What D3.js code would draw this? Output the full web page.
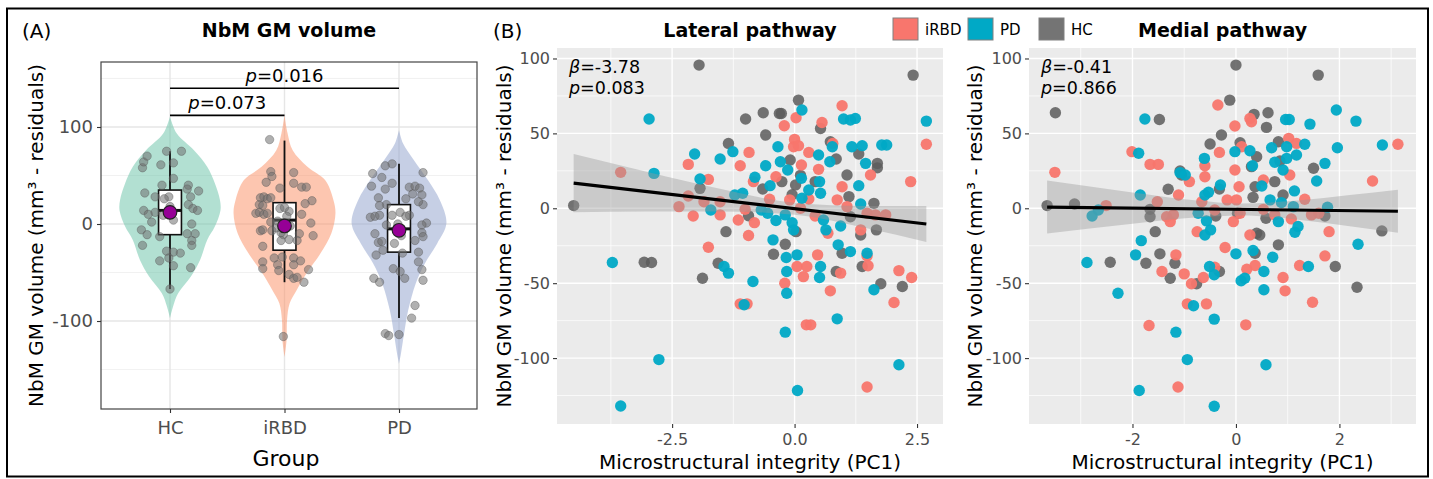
<!DOCTYPE html>
<html>
<head>
<meta charset="utf-8">
<script src="https://cdn.jsdelivr.net/npm/d3@7"></script>
<style>
  body { margin: 0; background: #fff; }
  svg { display: block; }
  text { font-family: "DejaVu Sans", sans-serif; }
</style>
</head>
<body>
<svg id="fig" width="1433" height="479"></svg>
<script>
// ---------------- data ----------------
const groups = ["HC", "iRBD", "PD"];

// Panel A: residual NbM GM volume per subject, [horizontal jitter (category units), value]
const hcPoints = [[-0.24,58],[-0.23,64],[-0.20,70],[-0.03,75],[0.10,75],[-0.08,61],[0.03,63],[0.03,47],[-0.07,40],[-0.22,32],[-0.13,28],[-0.01,28],[0.16,40],[0.15,36],[0.25,34],[0.18,28],[0.16,20],[0.20,16],[0.24,14],[-0.23,14],[-0.19,10],[-0.13,12],[-0.16,2],[-0.25,-6],[-0.20,-11],[-0.24,-22],[-0.09,-13],[0.19,0],[0.15,-10],[0.22,-10],[0.19,-17],[0.19,-22],[-0.03,-28],[0.03,-29],[0.09,-30],[-0.09,-38],[-0.01,-35],[0.03,-43],[0.18,-45],[0.00,-67],[0.00,18],[-0.06,9],[0.03,4],[-0.05,26]];
const irbdPoints = [[-0.13,87],[-0.12,54],[-0.11,49],[0.08,53],[-0.16,43],[-0.04,37],[0.08,42],[0.15,38],[0.19,38],[-0.21,27],[-0.18,28],[-0.15,26],[-0.12,27],[-0.22,20],[-0.19,19],[-0.25,11],[-0.22,12],[-0.18,10],[-0.15,11],[0.24,24],[0.18,21],[0.15,10],[0.04,13],[-0.06,3],[-0.12,2],[0.23,1],[-0.21,-7],[-0.19,-6],[-0.11,-7],[0.13,-10],[0.25,-12],[-0.01,-11],[-0.03,-17],[0.04,-16],[0.11,-17],[-0.19,-23],[-0.09,-35],[-0.02,-34],[0.08,-35],[0.14,-38],[-0.19,-39],[-0.19,-46],[-0.06,-42],[-0.05,-48],[0.08,-42],[0.21,-47],[0.04,-52],[0.08,-56],[0.11,-55],[0.17,-60],[-0.01,-116],[-0.04,16],[0.02,8],[0.05,-2],[-0.03,-9],[-0.07,-4],[0.00,17]];
const pdPoints = [[-0.23,52],[-0.12,60],[-0.06,62],[0.21,53],[-0.15,48],[-0.24,39],[-0.12,36],[-0.06,42],[0.09,38],[0.14,39],[0.18,37],[0.20,30],[0.12,31],[0.06,26],[-0.18,27],[-0.11,20],[-0.17,19],[0.21,20],[0.17,23],[-0.25,7],[-0.21,8],[-0.17,9],[-0.06,9],[0.09,9],[0.24,1],[0.20,-1],[-0.11,-1],[-0.21,-10],[-0.18,-19],[-0.15,-18],[-0.20,-32],[0.20,-9],[0.14,-17],[0.21,-13],[0.17,-29],[-0.05,-46],[0.01,-49],[0.05,-56],[0.17,-39],[0.20,-47],[0.21,-58],[-0.22,-56],[-0.17,-60],[0.14,-84],[0.11,-97],[-0.12,-113],[-0.09,-115],[0.00,-114],[0.01,12],[-0.01,0],[0.02,-12],[0.06,8],[-0.04,-20],[0.03,-30],[-0.14,-27]];

// Violin outlines: [value, relative density]
const hcViolin = [[110.6,0],[93.5,0.13],[76,0.47],[59,0.73],[42,0.88],[24.7,0.98],[14,0.99],[-2.7,0.88],[-16.5,0.73],[-37,0.59],[-54,0.41],[-71.5,0.16],[-85,0.06],[-97,0]];
const irbdViolin = [[112,0],[93.5,0.06],[76,0.16],[59,0.45],[45,0.80],[24.7,0.96],[11,1.0],[-9.6,0.92],[-30,0.71],[-51,0.43],[-68,0.24],[-82,0.10],[-99,0.05],[-120,0.04],[-137,0]];
const pdViolin = [[97,0],[83,0.08],[66,0.29],[45,0.57],[24.7,0.80],[0.7,0.93],[-20,0.75],[-40.5,0.51],[-61,0.33],[-89,0.18],[-113,0.10],[-133,0.04],[-144,0]];

// Box statistics per group (HC, iRBD, PD)
const whiskerLow = [-67, -60, -97];
const boxQ1 = [-11, -27, -29];
const boxMedian = [14, 4, -5];
const boxQ3 = [35, 22, 20];
const whiskerHigh = [75, 86, 62];
const groupMeans = [12, -2, -6.5];

// Pairwise comparisons: [from, to, bracket height, p]
const comparisons = [["HC", "iRBD", 112, "0.073"], ["HC", "PD", 140, "0.016"]];

// Panel B: [PC1, NbM GM volume residual]
const lateralHC = [[-4.51,1.8],[-1.95,95.6],[2.42,88.9],[-3.07,-36],[-2.92,-36.2],[-1.88,-46.7],[-1.93,13.3],[-1.56,-36.7],[-1.40,-15.6],[-1.35,43.3],[-1.0,59.6],[-0.94,-5],[-0.64,63.8],[-0.59,48.9],[-0.65,12.9],[-0.43,-30.7],[-0.31,63.3],[-0.27,63.3],[-0.26,17.8],[-0.19,-24],[-0.09,32.2],[0.08,72.2],[0.03,-15.6],[0.12,22],[0.53,53.3],[0.42,17.8],[0.73,44.4],[0.85,32.9],[0.97,-30],[0.85,-42.2],[1.07,22.2],[1.14,-5.6],[1.11,7.8],[1.35,-17.8],[1.38,-38.9],[1.62,3.3],[1.69,30],[1.69,27],[1.67,-14.4],[1.76,-50.4],[2.2,-52.2],[1.31,36.2],[0.02,15.6],[-0.05,9]];
const lateralIRBD = [[-3.55,24],[-2.36,1.1],[-2.17,29.3],[-2.17,8.2],[-2.07,-5.1],[-1.85,4.4],[-1.76,19.3],[-1.76,-26],[-1.52,4.4],[-1.52,-4.4],[-1.15,-7.8],[-1.11,28.4],[-1.01,-0.7],[-0.93,37.3],[-0.94,-18.2],[-0.84,17.8],[-0.82,-9.6],[-1.11,-63.8],[-0.97,-63.8],[-0.51,6],[-0.38,21.1],[-0.21,55.1],[-0.2,-50],[-0.1,5.6],[-0.02,41.1],[0.03,60.4],[0.0,46],[0.08,41.8],[0.05,-38.9],[0.14,28.9],[0.12,0],[0.18,-45.6],[0.29,37.3],[0.29,6.2],[0.25,-38.9],[0.24,-77.8],[0.33,-77.8],[0.42,-5.1],[0.47,-31.1],[0.49,26],[0.56,57.3],[0.68,-16.7],[0.73,-55.1],[0.78,43.3],[0.87,5.6],[0.94,-43.3],[0.97,68.4],[0.97,14.4],[1.07,1.1],[1.35,-14.4],[1.48,-3.3],[1.48,-31.8],[1.5,-38.4],[1.55,22.2],[1.65,-4.4],[1.86,-4.4],[1.48,-119.3],[2.03,-62.9],[2.13,-41.6],[2.37,17.8],[2.39,-46.2],[2.69,42.7]];
const lateralPD = [[-3.72,-36.2],[-2.97,59.6],[-2.87,23.3],[-2.77,-101],[-3.55,-132],[-2.04,36.2],[-1.93,19.6],[-1.71,-1.1],[-1.52,32.9],[-1.26,37.8],[-1.22,8.9],[-1.06,10],[-1.44,-38.9],[-1.35,-43.3],[-0.85,-48.9],[-1.03,-64.4],[-0.81,20.7],[-0.59,28.4],[-0.68,-1.1],[-0.55,-3.3],[-0.50,15.1],[-0.44,-21.1],[-0.38,-8.2],[-0.34,41.1],[-0.29,31.1],[-0.19,-4.4],[-0.17,-32.9],[-0.16,-42.2],[-0.16,-56.7],[-0.19,-82.7],[-0.14,25.6],[-0.05,-9.6],[-0.02,-14.4],[0.05,-31.1],[0.06,-121.6],[0.15,65.6],[0.14,20],[0.15,6.7],[0.29,12.2],[0.49,35.6],[0.51,17.8],[0.53,10],[0.59,-7.8],[0.64,-14.4],[0.53,-38.9],[0.51,-46.2],[0.72,31.1],[0.77,41.1],[0.94,-11.8],[0.89,-24.4],[0.87,-73.8],[1.0,59.6],[1.14,58.9],[1.24,60],[1.17,41.1],[1.38,41.8],[1.31,15.1],[1.14,-28.9],[1.35,2.9],[1.45,30],[1.48,-30],[1.62,-54.4],[1.78,42.2],[1.88,42.2],[2.13,-104.4],[2.69,58.2]];

const medialHC = [[-3.65,1.8],[-3.49,63.8],[-3.12,2.9],[-2.43,-36],[-1.74,-36.7],[-1.66,-0.7],[-1.66,-5.6],[-1.56,-15.6],[-1.48,59.3],[-1.47,-30.4],[-1.31,12.7],[-1.27,-46.7],[-1.18,-36.7],[-1.08,24.9],[-1.05,22.2],[-0.76,-50.4],[-0.5,42.9],[-0.39,-5.1],[-0.32,-42.2],[-0.28,48.9],[-0.32,12.9],[-0.12,72.2],[0,95.6],[0.08,43.8],[0.03,-3.3],[0.35,62.7],[0.3,27.8],[0.33,7.3],[0.37,14.4],[0.4,-16.7],[0.46,-17.8],[0.37,-30],[0.59,54],[0.62,63.8],[0.58,-6.7],[0.82,44.4],[0.82,-24.4],[0.75,17.8],[0.85,31.6],[0.91,8.9],[1.5,26.7],[1.59,88.9],[1.72,-5.1],[1.92,-38.9],[2.34,-52.7],[2.82,-15.1],[0.4,34.4]];
const medialIRBD = [[-3.5,24],[-2.51,1.8],[-2.01,37.8],[-1.68,-78.2],[-1.66,29.3],[-1.5,29.3],[-1.52,4.4],[-1.43,-42.2],[-1.34,-5.6],[-1.21,-4.4],[-1.27,-8.9],[-1.16,-31.1],[-1.11,8.9],[-1.12,-119.3],[-1.0,-43.8],[-0.94,-63.8],[-0.9,17.8],[-0.86,-50.4],[-0.75,-15.6],[-0.66,4.4],[-0.63,-46.2],[-0.6,28.4],[-0.6,21.1],[-0.57,-63.8],[-0.41,-1.1],[-0.41,-39.3],[-0.35,68.9],[-0.32,37.3],[-0.21,-26.2],[-0.17,5.6],[-0.05,-8.9],[-0.02,54.9],[-0.02,25.6],[0.01,5.6],[0.06,14.4],[0.11,41.1],[0.08,-3.3],[0.19,-77.8],[0.21,-40.7],[0.27,60],[0.3,57.8],[0.27,-17.8],[0.37,-38.2],[0.53,18.9],[0.53,-0.7],[0.75,-4.4],[0.91,-46.2],[0.95,-55.1],[1.02,46.7],[1.04,22.2],[1.07,-7.1],[1.17,43.3],[1.23,-38.2],[1.33,6],[1.46,-4.4],[1.48,-62.7],[1.6,-3.3],[1.72,-31.8],[1.8,-15.6],[2.64,18.2],[3.13,42.7]];
const medialPD = [[-2.88,-36.2],[-2.78,-5.1],[-2.66,-1.1],[-2.28,-56.7],[-1.94,-31.1],[-1.88,36.7],[-1.85,8.9],[-1.83,-21.6],[-1.87,-121.6],[-1.76,59.6],[-1.16,-82.7],[-1.08,23.8],[-0.98,22.2],[-0.94,-101],[-0.82,-65.1],[-0.73,-3.3],[-0.61,33.3],[-0.6,8.9],[-0.57,-8.4],[-0.53,10.7],[-0.6,-17.8],[-0.49,-14.4],[-0.51,-38.9],[-0.42,-44.4],[-0.42,-74],[-0.42,-132.2],[-0.3,15.6],[-0.02,37.8],[0,-30.4],[0.1,-48.4],[0.17,-46.7],[0.27,38.4],[0.32,28.4],[0.33,-28.2],[0.54,-42.2],[0.54,-54.4],[0.58,-104.4],[0.5,14.9],[0.69,40.4],[0.71,-32.7],[0.66,5.6],[0.75,30.7],[0.82,-8.9],[0.88,3.8],[0.96,59.3],[1.03,59.3],[0.98,41.1],[0.91,25.6],[0.98,33.3],[1.11,1.1],[1.13,11.6],[1.14,-16],[1.2,-12.2],[1.17,35.6],[1.33,42.7],[1.4,-38.9],[1.43,56.2],[1.56,18.2],[1.72,30],[1.77,0.7],[1.94,65.6],[1.96,40.4],[2.32,58.2],[2.36,-24],[2.83,42.2]];

// Linear fits: slope (beta), intercept, p value; 95% confidence band [PC1, lower, upper]
const fitBeta = [-3.78, -0.41];
const fitIntercept = [-0.3, -0.7];
const fitP = ["0.083", "0.866"];
const lateralBand = [[-4.51,-2.7,36.2],[-3,-2.2,24.3],[-1.5,-2.1,12.9],[0,-4.3,3.7],[1.5,-13.5,1.5],[2.69,-22.5,1.6]];
const medialBand = [[-3.65,-16.9,18.5],[-2,-10.4,10.6],[-0.8,-6.2,5.4],[0.11,-4.75,3.25],[1.2,-7.6,5.2],[2.2,-12,8.8],[3.13,-16.4,12.4]];

const legendGroups = ["iRBD", "PD", "HC"];

// ---------------- styles ----------------
const violinFill = { HC: "#66C2A5", iRBD: "#FC8D62", PD: "#8DA0CB" };
const pointColour = { iRBD: "#F8766D", PD: "#00A9C6", HC: "#5C5C5C" };
const FONT = "DejaVu Sans";

const svg = d3.select("#fig");
svg.append("rect").attr("width", 1433).attr("height", 479).attr("fill", "#fff");
svg.append("rect").attr("x", 7).attr("y", 8.5).attr("width", 1421).attr("height", 468)
  .attr("fill", "none").attr("stroke", "#000").attr("stroke-width", 2);

function styleAxis(g, size) {
  g.attr("font-family", FONT).attr("font-size", size);
  g.select(".domain").remove();
  g.selectAll(".tick line").attr("stroke", "#333").attr("stroke-width", 1.1);
  g.selectAll(".tick text").attr("fill", "#4D4D4D");
}

// ================= Panel A =================
const A = { left: 101, right: 477, top: 62, bottom: 409 };
const yA = d3.scaleLinear().domain([-190.7, 167]).range([A.bottom, A.top]);
const xA = d3.scalePoint().domain(groups).range([170, 399]);
const stepA = xA.step();
const gA = svg.append("g");

// grid
[-150, -50, 50, 150].forEach(v => gA.append("line").attr("x1", A.left).attr("x2", A.right)
  .attr("y1", yA(v)).attr("y2", yA(v)).attr("stroke", "#EDEDED").attr("stroke-width", 0.8));
[-100, 0, 100].forEach(v => gA.append("line").attr("x1", A.left).attr("x2", A.right)
  .attr("y1", yA(v)).attr("y2", yA(v)).attr("stroke", "#E6E6E6").attr("stroke-width", 1.4));
groups.forEach(g => gA.append("line").attr("x1", xA(g)).attr("x2", xA(g))
  .attr("y1", A.top).attr("y2", A.bottom).attr("stroke", "#E6E6E6").attr("stroke-width", 1.4));

// violins
const violins = [hcViolin, irbdViolin, pdViolin];
const maxHalf = 0.445 * stepA;
groups.forEach((g, i) => {
  const cx = xA(g);
  const area = d3.area()
    .y(d => yA(d[0]))
    .x0(d => cx - d[1] * maxHalf)
    .x1(d => cx + d[1] * maxHalf)
    .curve(d3.curveCatmullRom);
  gA.append("path").attr("d", area(violins[i])).attr("fill", violinFill[g]).attr("fill-opacity", 0.5);
});

// boxes
const boxHalf = 0.1 * stepA;
groups.forEach((g, i) => {
  const cx = xA(g);
  gA.append("line").attr("x1", cx).attr("x2", cx).attr("y1", yA(whiskerHigh[i])).attr("y2", yA(boxQ3[i]))
    .attr("stroke", "#111").attr("stroke-width", 1.8);
  gA.append("line").attr("x1", cx).attr("x2", cx).attr("y1", yA(boxQ1[i])).attr("y2", yA(whiskerLow[i]))
    .attr("stroke", "#111").attr("stroke-width", 1.8);
  gA.append("rect").attr("x", cx - boxHalf).attr("width", 2 * boxHalf)
    .attr("y", yA(boxQ3[i])).attr("height", yA(boxQ1[i]) - yA(boxQ3[i]))
    .attr("fill", "#fff").attr("stroke", "#111").attr("stroke-width", 1.6);
  gA.append("line").attr("x1", cx - boxHalf).attr("x2", cx + boxHalf)
    .attr("y1", yA(boxMedian[i])).attr("y2", yA(boxMedian[i])).attr("stroke", "#111").attr("stroke-width", 3);
});

// jittered subjects
const groupPoints = [hcPoints, irbdPoints, pdPoints];
groups.forEach((g, i) => {
  gA.append("g").selectAll("circle").data(groupPoints[i]).join("circle")
    .attr("cx", d => xA(g) + d[0] * stepA).attr("cy", d => yA(d[1])).attr("r", 4.2)
    .attr("fill", "#6F6F6F").attr("fill-opacity", 0.55)
    .attr("stroke", "#555").attr("stroke-opacity", 0.5).attr("stroke-width", 0.8);
});

// group means
groups.forEach((g, i) => {
  gA.append("circle").attr("cx", xA(g)).attr("cy", yA(groupMeans[i])).attr("r", 6.8)
    .attr("fill", "#960096").attr("stroke", "#222").attr("stroke-width", 1.2);
});

// comparison brackets
comparisons.forEach(c => {
  const x1 = xA(c[0]), x2 = xA(c[1]), y = yA(c[2]);
  gA.append("line").attr("x1", x1).attr("x2", x2).attr("y1", y).attr("y2", y)
    .attr("stroke", "#000").attr("stroke-width", 1.6);
  const t = gA.append("text").attr("x", (x1 + x2) / 2).attr("y", y - 6).attr("text-anchor", "middle")
    .attr("font-size", 18).attr("fill", "#000");
  t.append("tspan").attr("font-style", "italic").text("p");
  t.append("tspan").text("=" + c[3]);
});

// panel border
gA.append("rect").attr("x", A.left).attr("y", A.top).attr("width", A.right - A.left).attr("height", A.bottom - A.top)
  .attr("fill", "none").attr("stroke", "#444").attr("stroke-width", 1.2);

// axes
gA.append("g").attr("transform", `translate(${A.left},0)`)
  .call(d3.axisLeft(yA).tickValues([-100, 0, 100]).tickSize(4).tickPadding(4).tickFormat(d => String(d)))
  .call(g => styleAxis(g, 18));
gA.append("g").attr("transform", `translate(0,${A.bottom})`)
  .call(d3.axisBottom(xA).tickSize(4).tickPadding(8))
  .call(g => styleAxis(g, 18));

// titles
svg.append("text").attr("x", 22).attr("y", 38).attr("font-size", 20).text("(A)");
svg.append("text").attr("x", (A.left + A.right) / 2).attr("y", 37).attr("text-anchor", "middle")
  .attr("font-size", 19).attr("font-weight", "bold").text("NbM GM volume");
svg.append("text").attr("transform", `translate(43,${(A.top + A.bottom) / 2}) rotate(-90)`)
  .attr("text-anchor", "middle").attr("font-size", 20).text("NbM GM volume (mm³ - residuals)");
svg.append("text").attr("x", 286).attr("y", 466).attr("text-anchor", "middle")
  .attr("font-size", 22).text("Group");

// ================= Panel B =================
const yB = d3.scaleLinear().domain([-144, 107]).range([424, 48]);

function scatterPanel(cfg) {
  const { left, right, xDomain, majors, minors, fmt, pts, band, beta, intercept, p, title, titleX } = cfg;
  const x = d3.scaleLinear().domain(xDomain).range([left, right]);
  const g = svg.append("g");
  const top = yB.range()[1], bottom = yB.range()[0];
  g.append("rect").attr("x", left).attr("y", top).attr("width", right - left).attr("height", bottom - top)
    .attr("fill", "#EBEBEB");
  // grid
  minors.forEach(v => g.append("line").attr("x1", x(v)).attr("x2", x(v)).attr("y1", top).attr("y2", bottom)
    .attr("stroke", "#fff").attr("stroke-width", 0.7));
  [-125, -75, -25, 25, 75].forEach(v => g.append("line").attr("x1", left).attr("x2", right)
    .attr("y1", yB(v)).attr("y2", yB(v)).attr("stroke", "#fff").attr("stroke-width", 0.7));
  majors.forEach(v => g.append("line").attr("x1", x(v)).attr("x2", x(v)).attr("y1", top).attr("y2", bottom)
    .attr("stroke", "#fff").attr("stroke-width", 1.4));
  [-100, -50, 0, 50, 100].forEach(v => g.append("line").attr("x1", left).attr("x2", right)
    .attr("y1", yB(v)).attr("y2", yB(v)).attr("stroke", "#fff").attr("stroke-width", 1.4));

  // subjects
  const order = [["HC", pts.HC], ["iRBD", pts.iRBD], ["PD", pts.PD]];
  order.forEach(([grp, arr]) => {
    g.append("g").selectAll("circle").data(arr).join("circle")
      .attr("cx", d => x(d[0])).attr("cy", d => yB(d[1])).attr("r", 5.7)
      .attr("fill", pointColour[grp]).attr("fill-opacity", grp === "HC" ? 0.85 : 0.95);
  });

  // confidence band and fitted line
  const bandArea = d3.area().x(d => x(d[0])).y0(d => yB(d[1])).y1(d => yB(d[2])).curve(d3.curveMonotoneX);
  g.append("path").attr("d", bandArea(band)).attr("fill", "#999").attr("fill-opacity", 0.4);
  const allX = [...pts.HC, ...pts.iRBD, ...pts.PD].map(d => d[0]);
  const ext = d3.extent(allX);
  const line = d3.line().x(d => x(d)).y(d => yB(intercept + beta * d));
  g.append("path").attr("d", line(ext)).attr("stroke", "#000").attr("stroke-width", 3.2).attr("fill", "none");

  // statistics
  const t1 = g.append("text").attr("x", left + 12).attr("y", 73).attr("font-size", 17.5);
  t1.append("tspan").attr("font-style", "italic").text("β");
  t1.append("tspan").text("=" + beta);
  const t2 = g.append("text").attr("x", left + 12).attr("y", 94).attr("font-size", 17.5);
  t2.append("tspan").attr("font-style", "italic").text("p");
  t2.append("tspan").text("=" + p);

  // axes
  g.append("g").attr("transform", `translate(${left},0)`)
    .call(d3.axisLeft(yB).tickValues([-100, -50, 0, 50, 100]).tickSize(4).tickPadding(3).tickFormat(d => String(d)))
    .call(a => styleAxis(a, 16));
  g.append("g").attr("transform", `translate(0,${bottom})`)
    .call(d3.axisBottom(x).tickValues(majors).tickSize(4).tickPadding(6).tickFormat(fmt))
    .call(a => styleAxis(a, 16));

  svg.append("text").attr("x", (left + right) / 2).attr("y", 37).attr("text-anchor", "middle")
    .attr("font-size", 19).attr("font-weight", "bold").text(title);
  svg.append("text").attr("x", (left + right) / 2).attr("y", 469).attr("text-anchor", "middle")
    .attr("font-size", 20).text("Microstructural integrity (PC1)");
  svg.append("text").attr("transform", `translate(${titleX},${(top + bottom) / 2}) rotate(-90)`)
    .attr("text-anchor", "middle").attr("font-size", 20).text("NbM GM volume (mm³ - residuals)");
}

scatterPanel({
  left: 557, right: 943, xDomain: [-4.85, 3.03],
  majors: [-2.5, 0, 2.5], minors: [-3.75, -1.25, 1.25],
  fmt: d => d.toFixed(1),
  pts: { HC: lateralHC, iRBD: lateralIRBD, PD: lateralPD },
  band: lateralBand, beta: fitBeta[0], intercept: fitIntercept[0], p: fitP[0],
  title: "Lateral pathway", titleX: 511
});
scatterPanel({
  left: 1029, right: 1416, xDomain: [-4.0, 3.48],
  majors: [-2, 0, 2], minors: [-3, -1, 1, 3],
  fmt: d => String(d),
  pts: { HC: medialHC, iRBD: medialIRBD, PD: medialPD },
  band: medialBand, beta: fitBeta[1], intercept: fitIntercept[1], p: fitP[1],
  title: "Medial pathway", titleX: 982
});

svg.append("text").attr("x", 493).attr("y", 38).attr("font-size", 20).text("(B)");

// legend
const legX = [893, 968, 1039];
legendGroups.forEach((grp, i) => {
  svg.append("rect").attr("x", legX[i]).attr("y", 18).attr("width", 25).attr("height", 22)
    .attr("fill", pointColour[grp]).attr("fill-opacity", grp === "HC" ? 0.85 : 1)
    .attr("stroke", "#808080").attr("stroke-width", 1);
  svg.append("text").attr("x", legX[i] + 32).attr("y", 35).attr("font-size", 15).text(grp);
});
</script>
</body>
</html>
